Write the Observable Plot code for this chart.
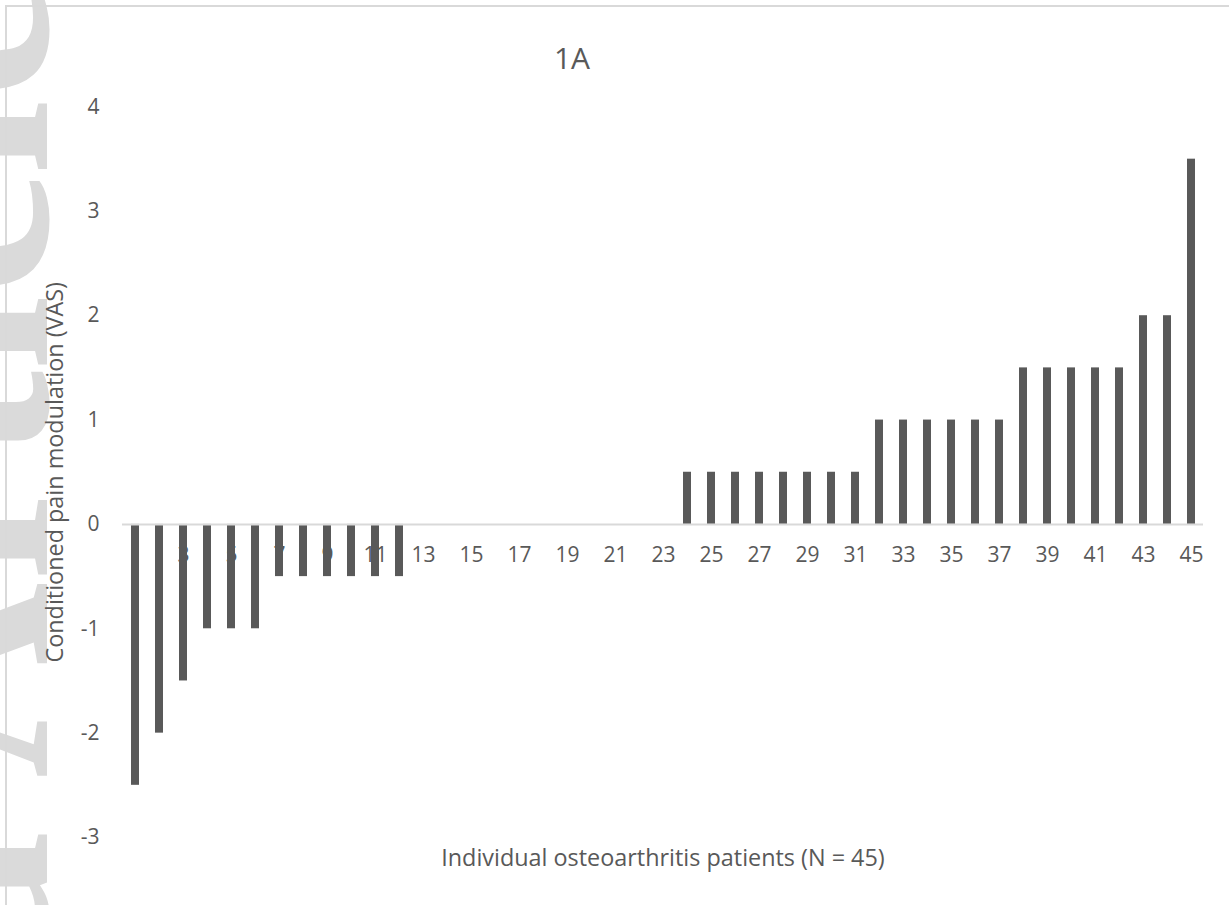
<!DOCTYPE html>
<html>
<head>
<meta charset="utf-8">
<script src="https://cdn.jsdelivr.net/npm/d3@7"></script>
<script src="https://cdn.jsdelivr.net/npm/@observablehq/plot@0.6"></script>
<style>
  html, body { margin: 0; padding: 0; background: #fff; width: 1229px; height: 905px; overflow: hidden; }
  #wrap { position: relative; width: 1229px; height: 905px; overflow: hidden; }
  #watermark { position: absolute; left: 0; top: 0; }
  #border { position: absolute; left: 5px; top: 5px; width: 1300px; height: 1000px; border: 2px solid #d9d9d9; box-sizing: border-box; }
  #chart { position: absolute; left: 0; top: 0; }
</style>
</head>
<body>
<div id="wrap">
  <svg id="watermark" width="1229" height="905">
    <text transform="translate(47,-22) rotate(-90)" text-anchor="end" font-family="Liberation Serif" font-weight="bold" font-size="272" fill="#dadada">Accepted Article</text>
  </svg>
  <div id="border"></div>
  <div id="chart"></div>
</div>
<script>
const patients = [1,2,3,4,5,6,7,8,9,10,11,12,13,14,15,16,17,18,19,20,21,22,23,24,25,26,27,28,29,30,31,32,33,34,35,36,37,38,39,40,41,42,43,44,45];
const cpmValues = [-2.5,-2,-1.5,-1,-1,-1,-0.5,-0.5,-0.5,-0.5,-0.5,-0.5,
  0,0,0,0,0,0,0,0,0,0,0,
  0.5,0.5,0.5,0.5,0.5,0.5,0.5,0.5,
  1,1,1,1,1,1,
  1.5,1.5,1.5,1.5,1.5,
  2,2,
  3.5];
const xTickLabels = [1,3,5,7,9,11,13,15,17,19,21,23,25,27,29,31,33,35,37,39,41,43,45];
const yTicks = [-3,-2,-1,0,1,2,3,4];
const chartTitle = "1A";
const xTitle = "Individual osteoarthritis patients (N = 45)";
const yTitle = "Conditioned pain modulation (VAS)";

const data = patients.map((p, i) => ({patient: p, cpm: cpmValues[i]}));
const gray = "#595959";
const font = "'Open Sans'";

const chart = Plot.plot({
  width: 1229,
  height: 905,
  marginLeft: 122,
  marginRight: 26,
  marginTop: 106.5,
  marginBottom: 68,
  style: {background: "transparent", fontFamily: font, fontSize: "21px", color: gray},
  x: {type: "band", domain: patients, paddingInner: 0.667, paddingOuter: 0.333, axis: null},
  y: {domain: [-3, 4], axis: null},
  marks: [
    Plot.axisY({ticks: yTicks, tickSize: 0, tickPadding: 23, tickFormat: d => String(d), label: yTitle, labelAnchor: "center", labelOffset: 76, labelArrow: "none", fill: gray, fontSize: 21}),
    Plot.text(xTickLabels, {x: d => d, y: () => 0, dy: 31, text: d => String(d), fill: gray, fontSize: 21}),
    Plot.barY(data, {x: "patient", y: "cpm", fill: gray}),
    Plot.ruleY([0], {stroke: "#d9d9d9", strokeWidth: 2}),
    Plot.text([chartTitle], {frameAnchor: "top", dx: -91, dy: -59, text: d => d, fill: gray, fontSize: 30}),
    Plot.text([xTitle], {frameAnchor: "bottom", dy: 28, text: d => d, fill: gray, fontSize: 23.4})
  ]
});
// enlarge the y-axis title to match the reference
chart.querySelectorAll("text").forEach(t => {
  if (t.textContent === yTitle) t.setAttribute("font-size", "23.4");
});
document.getElementById("chart").appendChild(chart);
</script>
</body>
</html>
